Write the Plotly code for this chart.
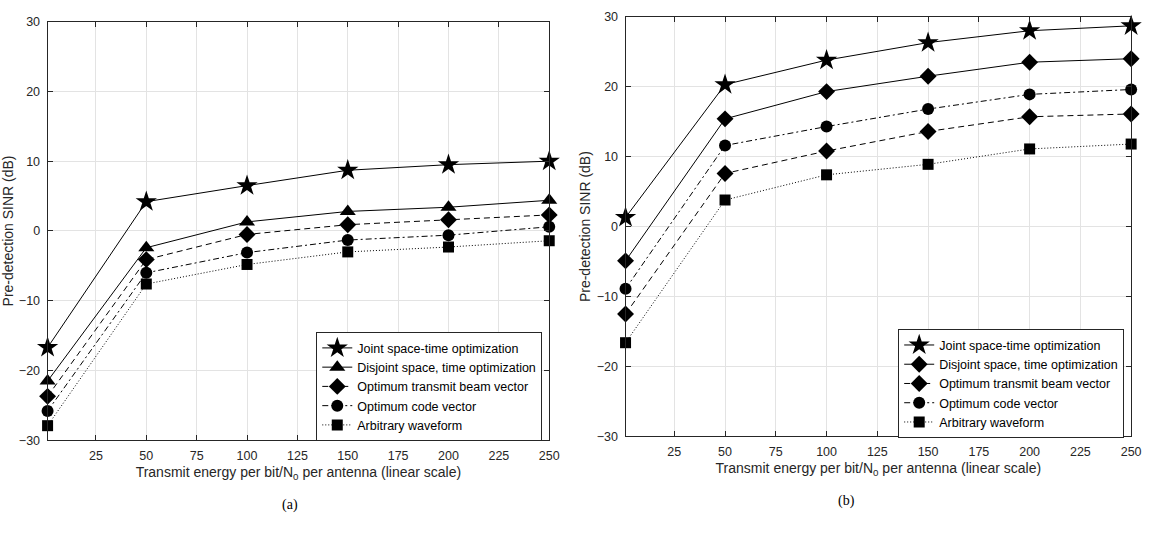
import plotly.graph_objects as go

# Transmit energy per bit / N0 per antenna (linear scale)
energy = [1, 50, 100, 150, 200, 250]

# Panel (a): pre-detection SINR in dB
a_joint = [-16.7, 4.2, 6.5, 8.7, 9.5, 10.0]
a_disjoint = [-21.5, -2.4, 1.3, 2.8, 3.4, 4.4]
a_beam = [-23.7, -4.1, -0.5, 0.9, 1.6, 2.3]
a_code = [-25.8, -6.0, -3.1, -1.3, -0.6, 0.6]
a_arbitrary = [-27.9, -7.6, -4.8, -3.0, -2.3, -1.4]

# Panel (b): pre-detection SINR in dB
b_joint = [1.3, 20.3, 23.8, 26.3, 28.0, 28.7]
b_disjoint = [-4.9, 15.4, 19.3, 21.5, 23.5, 24.0]
b_beam = [-12.5, 7.6, 10.8, 13.6, 15.7, 16.1]
b_code = [-8.9, 11.6, 14.3, 16.8, 18.9, 19.6]
b_arbitrary = [-16.6, 3.8, 7.4, 8.9, 11.1, 11.8]

x_ticks = [25, 50, 75, 100, 125, 150, 175, 200, 225, 250]
y_ticks = [-30, -20, -10, 0, 10, 20, 30]

names = [
    "Joint space-time optimization",
    "Disjoint space, time optimization",
    "Optimum transmit beam vector",
    "Optimum code vector",
    "Arbitrary waveform",
]

W, H = 1157, 534
FONT = "Liberation Sans, Arial, sans-serif"
SERIF = "Liberation Serif, Times New Roman, serif"
INK = "#000000"
AXIS = "#262626"
GRID = "#e3e3e3"

# line styles: solid, dashed, dash-dot, dotted
SOLID = "solid"
DASHED = "6px,4px"
DASHDOT = "6px,3px,2px,3px"
DOTTED = "1px,2px"

fig = go.Figure()

panel_a = [
    (a_joint, SOLID, "star", 16),
    (a_disjoint, SOLID, "triangle-up", 14),
    (a_beam, DASHED, "diamond", 13),
    (a_code, DASHDOT, "circle", 12),
    (a_arbitrary, DOTTED, "square", 11),
]
panel_b = [
    (b_joint, SOLID, "star", 16),
    (b_disjoint, SOLID, "diamond", 13),
    (b_beam, DASHED, "diamond", 13),
    (b_code, DASHDOT, "circle", 12),
    (b_arbitrary, DOTTED, "square", 11),
]

for (vals, dash, sym, size), name in zip(panel_a, names):
    fig.add_trace(go.Scatter(
        x=energy, y=vals, name=name, mode="lines+markers",
        line=dict(color=INK, width=1, dash=dash),
        marker=dict(symbol=sym, size=size, color=INK),
        xaxis="x", yaxis="y", legend="legend", cliponaxis=False,
    ))

for (vals, dash, sym, size), name in zip(panel_b, names):
    fig.add_trace(go.Scatter(
        x=energy, y=vals, name=name, mode="lines+markers",
        line=dict(color=INK, width=1, dash=dash),
        marker=dict(symbol=sym, size=size, color=INK),
        xaxis="x2", yaxis="y2", legend="legend2", cliponaxis=False,
    ))


def px(v):
    return v / W


def py(v):
    return 1 - v / H


x_title = "Transmit energy per bit/N<sub>0</sub> per antenna (linear scale)"
y_title = "Pre-detection SINR (dB)"
title_font = dict(family=FONT, size=14, color=AXIS)

axis_base = dict(
    ticks="inside", ticklen=5, tickcolor=AXIS,
    showline=True, linecolor=AXIS, linewidth=1, mirror="ticks",
    showgrid=True, gridcolor=GRID, gridwidth=1, zeroline=False,
    tickfont=dict(family=FONT, size=12.5, color=AXIS),
)
x_base = dict(range=[1, 250], tickvals=x_ticks, ticklabelstandoff=4, **axis_base)
y_base = dict(range=[-30, 30], tickvals=y_ticks, ticklabelstandoff=4, **axis_base)

legend_style = dict(
    bgcolor="white", bordercolor=AXIS, borderwidth=1,
    font=dict(family=FONT, size=12.5, color=INK),
    xanchor="right", yanchor="middle", tracegroupgap=0, itemwidth=30,
)

fig.update_layout(
    width=W, height=H,
    margin=dict(l=0, r=0, t=0, b=0),
    paper_bgcolor="white", plot_bgcolor="white",
    showlegend=True,
    xaxis=dict(domain=[px(48), px(554)], anchor="y",
               title=dict(text=x_title, font=title_font, standoff=4), **x_base),
    yaxis=dict(domain=[py(445), py(15)], anchor="x",
               title=dict(text=y_title, font=title_font, standoff=5), **y_base),
    xaxis2=dict(domain=[px(631), px(1141)], anchor="y2",
                title=dict(text=x_title, font=title_font, standoff=4), **x_base),
    yaxis2=dict(domain=[py(441), py(10)], anchor="x2",
                title=dict(text=y_title, font=title_font, standoff=2), **y_base),
    legend=dict(x=px(547), y=py(390), **legend_style),
    legend2=dict(x=px(1134), y=py(387), **legend_style),
    annotations=[
        dict(text="(a)", x=px(282), y=py(522), xref="paper", yref="paper",
             showarrow=False, font=dict(family=SERIF, size=14, color=INK)),
        dict(text="(b)", x=px(864), y=py(518), xref="paper", yref="paper",
             showarrow=False, font=dict(family=SERIF, size=14, color=INK)),
    ],
)

fig.write_html("out.html")
